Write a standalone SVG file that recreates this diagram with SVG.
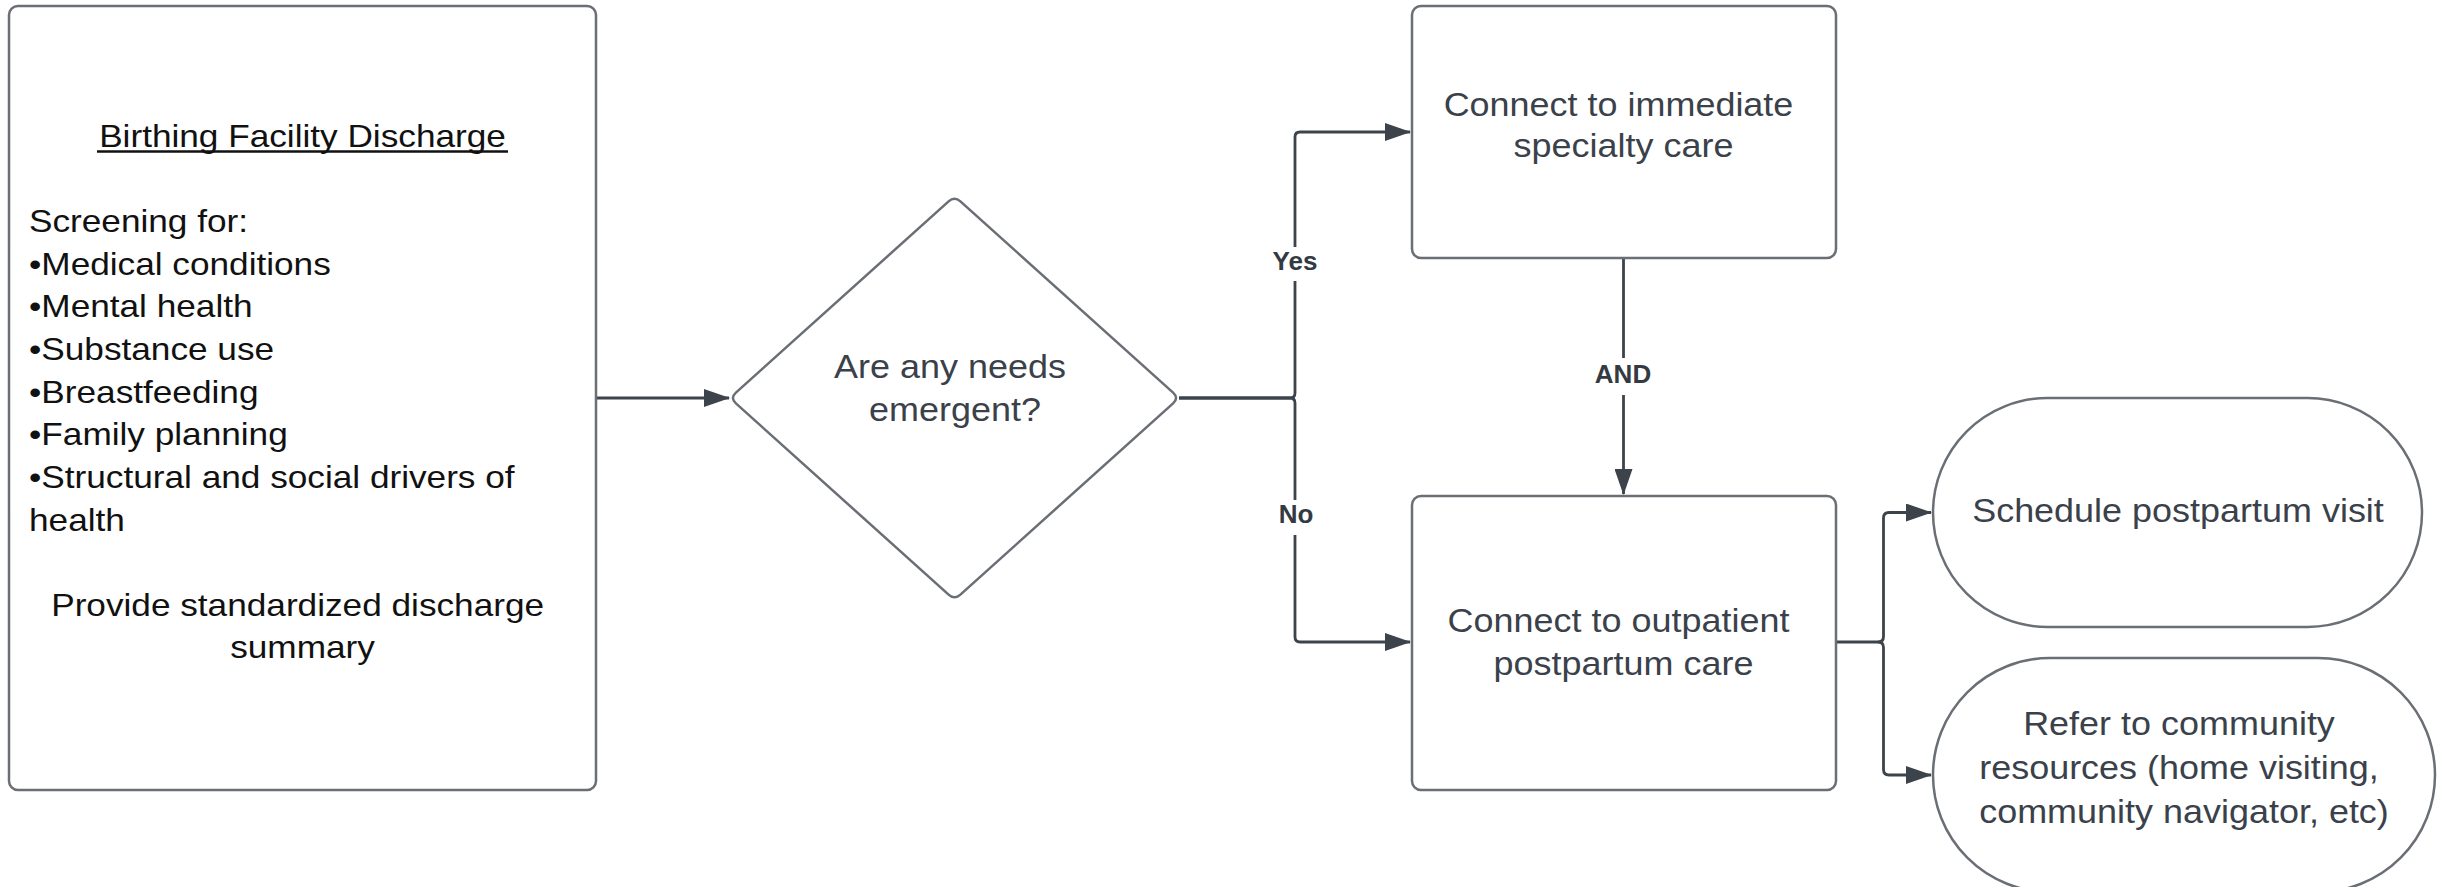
<svg xmlns="http://www.w3.org/2000/svg" width="2447" height="887" viewBox="0 0 2447 887">
<style>
.box{fill:#ffffff;stroke:#6a6e75;stroke-width:2.5}
.conn{fill:none;stroke:#3d434b;stroke-width:2.8}
.t1{font-family:"Liberation Sans",Arial,sans-serif;font-size:32px;fill:#111111}
.t2{font-family:"Liberation Sans",Arial,sans-serif;font-size:33px;fill:#3a414a}
.lbl{font-family:"Liberation Sans",Arial,sans-serif;font-size:26px;font-weight:bold;fill:#333a42;text-anchor:middle}
.gap{fill:#ffffff}
</style>
<defs>
<marker id="ah" viewBox="0 0 26 18" refX="25" refY="9" markerWidth="26" markerHeight="18" markerUnits="userSpaceOnUse" orient="auto">
<path d="M0,0 L26,9 L0,18 Z" fill="#3d434b"/>
</marker>
</defs>
<rect x="0" y="0" width="2447" height="887" fill="#ffffff"/>

<g id="connectors">
<path class="conn" d="M596,398 H729" marker-end="url(#ah)"/>
<path class="conn" d="M1179,398 H1290 Q1295,398 1295,393 V137 Q1295,132 1300,132 H1410" marker-end="url(#ah)"/>
<path class="conn" d="M1179,398 H1290 Q1295,398 1295,403 V637 Q1295,642 1300,642 H1410" marker-end="url(#ah)"/>
<path class="conn" d="M1623.5,258 V494" marker-end="url(#ah)"/>
<path class="conn" d="M1836,642 H1878 Q1883.5,642 1883.5,636.5 V518 Q1883.5,512.5 1889,512.5 H1931" marker-end="url(#ah)"/>
<path class="conn" d="M1878,642 Q1883.5,642 1883.5,647.5 V769.5 Q1883.5,775 1889,775 H1931" marker-end="url(#ah)"/>
<rect class="gap" x="1270" y="247" width="50" height="34"/>
<text class="lbl" x="1295" y="270">Yes</text>
<rect class="gap" x="1272" y="500" width="48" height="35"/>
<text class="lbl" x="1296" y="523">No</text>
<rect class="gap" x="1593" y="358" width="60" height="37"/>
<text class="lbl" x="1623" y="383">AND</text>
</g>

<g id="discharge">
<rect class="box" x="9" y="6" width="587" height="784" rx="9"/>
<text class="t1" text-anchor="middle" transform="translate(302.5 0) scale(1.1 1)"><tspan x="0" y="147">Birthing Facility Discharge</tspan></text>
<line x1="97" y1="151.5" x2="508" y2="151.5" stroke="#111111" stroke-width="2.4"/>
<text class="t1" transform="translate(29 0) scale(1.1 1)">
<tspan x="0" y="232">Screening for:</tspan>
<tspan x="0" y="274.7">•Medical conditions</tspan>
<tspan x="0" y="317.4">•Mental health</tspan>
<tspan x="0" y="360.1">•Substance use</tspan>
<tspan x="0" y="402.8">•Breastfeeding</tspan>
<tspan x="0" y="445.5">•Family planning</tspan>
<tspan x="0" y="488.2">•Structural and social drivers of</tspan>
<tspan x="0" y="530.9">health</tspan>
</text>
<text class="t1" text-anchor="middle" transform="translate(302.5 0) scale(1.1 1)">
<tspan x="0" y="616">Provide standardized discharge</tspan>
<tspan x="0" y="658">summary</tspan>
</text>
</g>

<g id="decision">
<path class="box" d="M735.9,392.6 L948.6,201.4 Q954.5,196 960.4,201.4 L1173.1,392.6 Q1179,398 1173.1,403.4 L960.4,594.6 Q954.5,600 948.6,594.6 L735.9,403.4 Q730,398 735.9,392.6 Z"/>
<text class="t2" text-anchor="middle" transform="translate(955 0) scale(1.09 1)">
<tspan x="0" y="378">Are any needs</tspan>
<tspan x="0" y="421">emergent?</tspan>
</text>
</g>

<g id="specialty">
<rect class="box" x="1412" y="6" width="424" height="252" rx="9"/>
<text class="t2" text-anchor="middle" transform="translate(1623.5 0) scale(1.09 1)">
<tspan x="0" y="116">Connect to immediate</tspan>
<tspan x="0" y="157">specialty care</tspan>
</text>
</g>

<g id="outpatient">
<rect class="box" x="1412" y="496" width="424" height="294" rx="9"/>
<text class="t2" text-anchor="middle" transform="translate(1623.5 0) scale(1.09 1)">
<tspan x="0" y="632">Connect to outpatient</tspan>
<tspan x="0" y="675">postpartum care</tspan>
</text>
</g>

<g id="schedule">
<rect class="box" x="1933" y="398" width="489" height="229" rx="114.5"/>
<text class="t2" text-anchor="middle" transform="translate(2178 0) scale(1.09 1)">
<tspan x="0" y="522">Schedule postpartum visit</tspan>
</text>
</g>

<g id="refer">
<rect class="box" x="1933" y="658" width="502" height="234" rx="117"/>
<text class="t2" text-anchor="middle" transform="translate(2184 0) scale(1.09 1)">
<tspan x="0" y="735">Refer to community</tspan>
<tspan x="0" y="779">resources (home visiting,</tspan>
<tspan x="0" y="823">community navigator, etc)</tspan>
</text>
</g>
</svg>
